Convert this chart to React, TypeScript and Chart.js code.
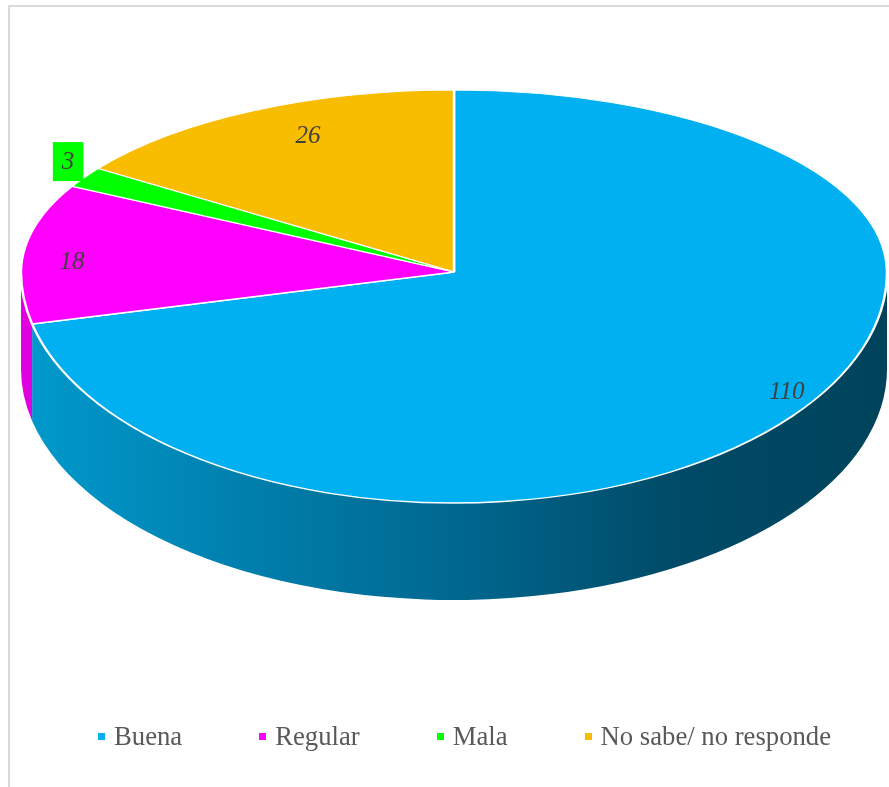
import React, { useEffect, useRef } from "react";
import { Chart, registerables } from "chart.js";

Chart.register(...registerables);

const categories = ["Buena", "Regular", "Mala", "No sabe/ no responde"];
const values = [110, 18, 3, 26];
const topColors = ["#00B0F0", "#FF00FF", "#00FF00", "#F9BD00"];
const sideStops: string[][] = [
  ["#009ACD", "#0080AE", "#006890", "#004B68", "#00435B"],
  ["#E000E0", "#C800C8", "#A000A0", "#800080", "#700070"],
  ["#00D000", "#00C000", "#00A000", "#008000", "#007000"],
  ["#D8A400", "#C89800", "#B08500", "#906D00", "#805F00"],
];
// label placement: fraction of radius horizontally / vertically
const labelFractions: number[][] = [
  [0.982, 0.828],
  [0.89, 0.46],
  [1.044, 1.17],
  [0.727, 0.85],
];
const labelBoxes: (string | null)[] = [null, null, "#00FF00", null];

// perspective warp of the angle (tilted view)
const WARP = (5 * Math.PI) / 180;
const warp = (a: number) => a - WARP * Math.cos(a);

const pie3d = {
  id: "pie3d",
  beforeDatasetsDraw(chart: any, _args: any, opts: any) {
    const ctx: CanvasRenderingContext2D = chart.ctx;
    const meta = chart.getDatasetMeta(0);
    const arcs = meta.data as any[];
    if (!arcs.length) return;
    const { x: cx, y: cy, outerRadius: R } = arcs[0].getProps(["x", "y", "outerRadius"]);
    const k1 = opts.topRatio;
    const k2 = opts.bottomRatio;
    const depth = opts.depth;

    const orig = arcs.map((a: any) => ({ s: a.startAngle, e: a.endAngle, c: a.circumference }));
    arcs.forEach((a: any) => {
      const s = warp(a.startAngle);
      const e = warp(a.endAngle);
      a.startAngle = s;
      a.endAngle = e;
      a.circumference = e - s;
    });

    // side walls (front half only)
    arcs.forEach((arc: any, i: number) => {
      const a = Math.max(arc.startAngle, 0);
      const b = Math.min(arc.endAngle, Math.PI);
      if (b <= a) return;
      const g = ctx.createLinearGradient(cx - R, 0, cx + R, 0);
      const stops = sideStops[i];
      stops.forEach((c, j) => g.addColorStop(j / (stops.length - 1), c));
      ctx.save();
      ctx.beginPath();
      ctx.ellipse(cx, cy, R, R * k2, 0, a, b, false);
      ctx.ellipse(cx, cy + depth, R, R * k2, 0, b, a, true);
      ctx.closePath();
      ctx.fillStyle = g;
      ctx.fill();
      ctx.restore();
    });

    const drawHalf = (k: number, upper: boolean) => {
      ctx.save();
      ctx.beginPath();
      if (upper) ctx.rect(0, 0, chart.width, cy);
      else ctx.rect(0, cy, chart.width, chart.height - cy);
      ctx.clip();
      ctx.translate(0, cy);
      ctx.scale(1, k);
      ctx.translate(0, -cy);
      arcs.forEach((a: any) => a.draw(ctx, chart.chartArea));
      ctx.restore();
    };
    drawHalf(k1, true);
    drawHalf(k2, false);

    // data labels
    const ds = chart.data.datasets[0];
    ctx.save();
    ctx.font = "italic 25px 'Liberation Serif', 'Times New Roman', serif";
    ctx.textAlign = "center";
    ctx.textBaseline = "middle";
    arcs.forEach((arc: any, i: number) => {
      const mid = (arc.startAngle + arc.endAngle) / 2;
      const [fx, fy] = labelFractions[i];
      const s = Math.sin(mid);
      const X = cx + R * fx * Math.cos(mid);
      const Y = cy + R * fy * s * (s < 0 ? k1 : k2);
      const txt = String(ds.data[i]);
      if (labelBoxes[i]) {
        const w = ctx.measureText(txt).width;
        ctx.fillStyle = labelBoxes[i] as string;
        ctx.fillRect(X - w / 2 - 9, Y - 19, w + 18, 39);
      }
      ctx.fillStyle = "#404040";
      ctx.fillText(txt, X, Y + 1);
    });
    ctx.restore();

    arcs.forEach((a: any, i: number) => {
      a.startAngle = orig[i].s;
      a.endAngle = orig[i].e;
      a.circumference = orig[i].c;
    });
    return false;
  },
};

export default function App() {
  const ref = useRef<HTMLCanvasElement | null>(null);
  useEffect(() => {
    if (!ref.current) return;
    const chart = new Chart(ref.current, {
      type: "pie",
      data: {
        labels: categories,
        datasets: [
          {
            data: values,
            backgroundColor: topColors,
            borderColor: "#FFFFFF",
            borderWidth: 2.5,
            radius: 433,
          } as any,
        ],
      },
      options: {
        animation: false,
        responsive: false,
        maintainAspectRatio: false,
        layout: { padding: { left: 19, right: 0, top: 0, bottom: 243 } },
        plugins: {
          legend: { display: false },
          tooltip: { enabled: false },
          pie3d: { topRatio: 182 / 433, bottomRatio: 231 / 433, depth: 97 },
        } as any,
      },
      plugins: [pie3d as any],
    });
    return () => chart.destroy();
  }, []);

  return (
    <div style={{ position: "absolute", left: 0, top: 0, width: 889, height: 787, overflow: "hidden", background: "#fff" }}>
      <div
        style={{
          position: "absolute",
          left: 8,
          top: 5,
          width: 920,
          height: 820,
          borderTop: "2px solid #D9D9D9",
          borderLeft: "2px solid #D9D9D9",
          boxSizing: "border-box",
        }}
      />
      <canvas ref={ref} width={889} height={787} style={{ position: "absolute", left: 0, top: 0 }} />
      <div
        style={{
          position: "absolute",
          left: 98,
          top: 721,
          height: 30,
          display: "flex",
          alignItems: "center",
          fontFamily: "'Liberation Serif', 'Times New Roman', serif",
          fontSize: 26.7,
          color: "#595959",
          whiteSpace: "nowrap",
        }}
      >
        {categories.map((c, i) => (
          <div key={c} style={{ display: "flex", alignItems: "center", marginRight: 77 }}>
            <span style={{ display: "inline-block", width: 7, height: 7, background: topColors[i], marginRight: 9 }} />
            <span style={{ lineHeight: "30px" }}>{c}</span>
          </div>
        ))}
      </div>
    </div>
  );
}
